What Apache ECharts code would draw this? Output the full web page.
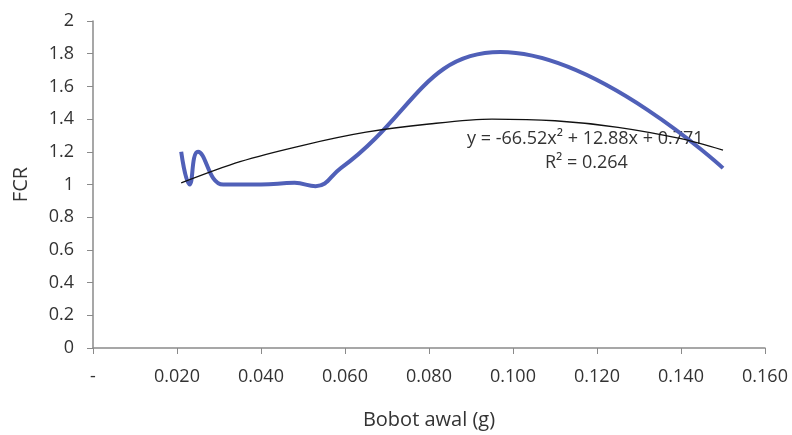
<!DOCTYPE html>
<html>
<head>
<meta charset="utf-8">
<script src="https://cdn.jsdelivr.net/npm/echarts@6/dist/echarts.min.js"></script>
<style>
  html, body { margin: 0; padding: 0; background: #fff; }
  #chartContainer { width: 792px; height: 435px; }
</style>
</head>
<body>
<div id="chartContainer"></div>
<script>
// bobot awal (g) vs FCR
const bobotAwal = [0.021, 0.023, 0.025, 0.031, 0.040, 0.048, 0.053, 0.059, 0.097, 0.150]
const fcr = [1.20, 1.00, 1.20, 1.00, 1.00, 1.01, 0.99, 1.10, 1.81, 1.10]

// polynomial trendline, points
const trendX = [0.021, 0.035, 0.050, 0.065, 0.080, 0.095, 0.110, 0.125, 0.140, 0.150]
const trendY = [1.01, 1.14, 1.24, 1.32, 1.37, 1.40, 1.39, 1.35, 1.28, 1.21]

const trendLabel = 'y = -66.52x² + 12.88x + 0.771'
const r2Label = 'R² = 0.264'

const font = '"Open Sans", "Noto Sans", sans-serif'
const textColor = '#333'
const axisColor = '#8a8a8a'

const chart = echarts.init(document.getElementById('chartContainer'))

const pairs = (xs, ys) => xs.map((x, i) => [x, ys[i]])

chart.setOption({
  animation: false,
  backgroundColor: '#fff',
  textStyle: { fontFamily: font },
  grid: { left: 93, top: 21, right: 27, bottom: 87 },
  xAxis: {
    type: 'value',
    min: 0,
    max: 0.16,
    interval: 0.02,
    name: 'Bobot awal (g)',
    nameLocation: 'middle',
    nameGap: 62,
    nameTextStyle: { fontSize: 20, color: textColor, fontFamily: font },
    axisLine: { lineStyle: { color: axisColor, width: 1.5 } },
    axisTick: { show: true, length: 6, lineStyle: { color: axisColor } },
    splitLine: { show: false },
    axisLabel: {
      fontSize: 18,
      color: textColor,
      margin: 20,
      formatter: v => (v === 0 ? '-' : v.toFixed(3))
    }
  },
  yAxis: {
    type: 'value',
    min: 0,
    max: 2,
    interval: 0.2,
    name: 'FCR',
    nameLocation: 'middle',
    nameRotate: 90,
    nameGap: 62,
    nameTextStyle: { fontSize: 20, color: textColor, fontFamily: font },
    axisLine: { show: true, lineStyle: { color: axisColor, width: 1.5 } },
    axisTick: { show: true, length: 6, lineStyle: { color: axisColor } },
    splitLine: { show: false },
    axisLabel: {
      fontSize: 18,
      color: textColor,
      margin: 19,
      formatter: v => String(Math.round(v * 10) / 10)
    }
  },
  series: [
    {
      type: 'line',
      data: pairs(bobotAwal, fcr),
      smooth: 0.45,
      showSymbol: false,
      lineStyle: { color: '#5060b8', width: 4 },
      z: 2
    },
    {
      type: 'line',
      data: pairs(trendX, trendY),
      smooth: 0.3,
      showSymbol: false,
      lineStyle: { color: '#111', width: 1.3 },
      z: 3
    }
  ],
  graphic: [
    {
      type: 'text',
      x: 467,
      y: 139,
      style: { text: trendLabel, font: '18px ' + font, fill: textColor, verticalAlign: 'middle' }
    },
    {
      type: 'text',
      x: 545,
      y: 163,
      style: { text: r2Label, font: '18px ' + font, fill: textColor, verticalAlign: 'middle' }
    }
  ]
})
</script>
</body>
</html>
